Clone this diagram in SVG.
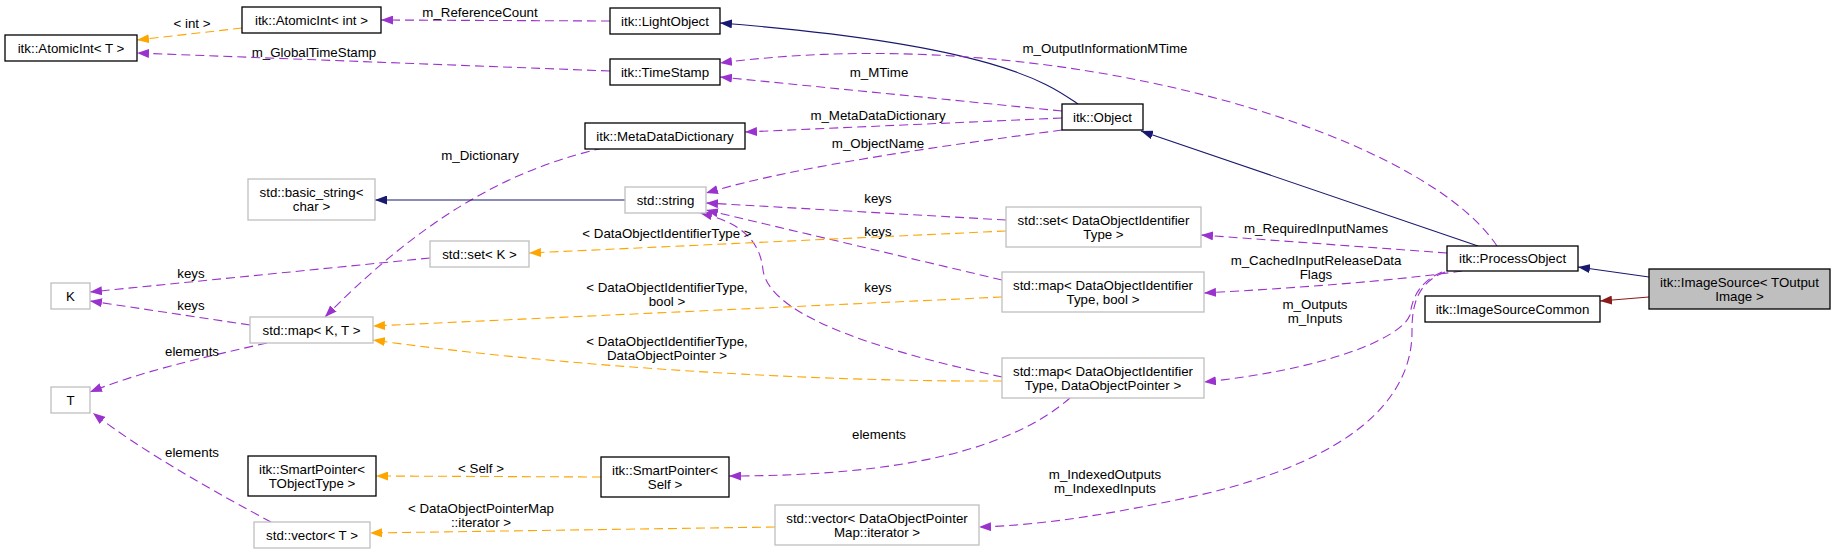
<svg xmlns="http://www.w3.org/2000/svg" width="1835" height="553" viewBox="0 0 1835 553">
<style>
text{font-family:"Liberation Sans",Arial,sans-serif;font-size:13.3px;fill:#000;text-anchor:middle}
.n rect{fill:#fff;stroke:#000;stroke-width:1.3}
.g rect{fill:#fff;stroke:#bfbfbf;stroke-width:1.3}
.h rect{fill:#bfbfbf;stroke:#000;stroke-width:1.3}
.e path{fill:none;stroke-width:1.1}
.p{stroke:#9a32cd;stroke-dasharray:9,5;marker-end:url(#mp)}
.o{stroke:#ffa500;stroke-dasharray:9,5;marker-end:url(#mo)}
.b{stroke:#191970;marker-end:url(#mb)}
.r{stroke:#8b1a1a;marker-end:url(#mr)}
</style>
<defs>
<marker id="mp" viewBox="0 0 12 9" refX="12" refY="4.5" markerWidth="12" markerHeight="9" markerUnits="userSpaceOnUse" orient="auto"><path d="M0,0L12,4.5L0,9z" fill="#9a32cd"/></marker>
<marker id="mo" viewBox="0 0 12 9" refX="12" refY="4.5" markerWidth="12" markerHeight="9" markerUnits="userSpaceOnUse" orient="auto"><path d="M0,0L12,4.5L0,9z" fill="#ffa500"/></marker>
<marker id="mb" viewBox="0 0 12 9" refX="12" refY="4.5" markerWidth="12" markerHeight="9" markerUnits="userSpaceOnUse" orient="auto"><path d="M0,0L12,4.5L0,9z" fill="#191970"/></marker>
<marker id="mr" viewBox="0 0 12 9" refX="12" refY="4.5" markerWidth="12" markerHeight="9" markerUnits="userSpaceOnUse" orient="auto"><path d="M0,0L12,4.5L0,9z" fill="#8b1a1a"/></marker>
</defs>
<rect width="1835" height="553" fill="#fff"/>
<g id="edges" class="e">
<path class="o" d="M242,28 L137,40"/>
<path class="p" d="M610,21 L381,20"/>
<path class="p" d="M610,71 L137,53"/>
<path class="b" d="M1078,104 C1050,85 1000,45 720,23"/>
<path class="p" d="M1062,111 L720,77"/>
<path class="p" d="M1497,246 C1420,130 1050,20 720,63"/>
<path class="p" d="M1062,118 L745,132"/>
<path class="p" d="M1062,130 C950,145 800,165 706,193"/>
<path class="p" d="M603,148 C530,165 440,200 325,317"/>
<path class="b" d="M625,200 L375,200"/>
<path class="p" d="M1006,220 L706,203"/>
<path class="p" d="M1002,280 L706,210"/>
<path class="p" d="M1002,377 C900,355 770,320 763,270 C760,240 740,222 700,213"/>
<path class="o" d="M1006,231 L529,253"/>
<path class="o" d="M1002,297 L373,326"/>
<path class="o" d="M1002,381 C800,382 550,365 373,340"/>
<path class="p" d="M430,258 L90,292"/>
<path class="p" d="M250,325 L90,301"/>
<path class="p" d="M267,343 C200,358 140,372 90,392"/>
<path class="p" d="M271,522 C220,495 140,450 93,413"/>
<path class="o" d="M601,477 L376,476"/>
<path class="o" d="M775,527 L370,533"/>
<path class="p" d="M1070,398 C1010,450 900,476 729,476"/>
<path class="p" d="M1447,253 L1201,235"/>
<path class="p" d="M1462,271 C1420,277 1350,285 1204,293"/>
<path class="p" d="M1442,272 C1418,282 1412,300 1410,315 C1400,340 1320,370 1204,382"/>
<path class="p" d="M1445,272 C1420,282 1412,300 1412,330 C1413,400 1350,460 1200,495 C1120,512 1050,525 979,527"/>
<path class="b" d="M1478,246 L1141,131"/>
<path class="b" d="M1649,277 L1578,267"/>
<path class="r" d="M1649,297 L1600,301"/>
</g>
<g id="edge-labels">
<text x="192" y="28">&lt; int &gt;</text>
<text x="480" y="17">m_ReferenceCount</text>
<text x="314" y="57">m_GlobalTimeStamp</text>
<text x="1105" y="53">m_OutputInformationMTime</text>
<text x="879" y="77">m_MTime</text>
<text x="878" y="120">m_MetaDataDictionary</text>
<text x="878" y="148">m_ObjectName</text>
<text x="480" y="160">m_Dictionary</text>
<text x="878" y="203">keys</text>
<text x="667" y="238">&lt; DataObjectIdentifierType &gt;</text>
<text x="878" y="236">keys</text>
<text x="191" y="278">keys</text>
<text x="878" y="292">keys</text>
<text x="667" y="292">&lt; DataObjectIdentifierType,</text>
<text x="667" y="306">bool &gt;</text>
<text x="191" y="310">keys</text>
<text x="667" y="346">&lt; DataObjectIdentifierType,</text>
<text x="667" y="360">DataObjectPointer &gt;</text>
<text x="192" y="356">elements</text>
<text x="1316" y="233">m_RequiredInputNames</text>
<text x="1316" y="265">m_CachedInputReleaseData</text>
<text x="1316" y="279">Flags</text>
<text x="1315" y="309">m_Outputs</text>
<text x="1315" y="323">m_Inputs</text>
<text x="879" y="439">elements</text>
<text x="192" y="457">elements</text>
<text x="481" y="473">&lt; Self &gt;</text>
<text x="1105" y="479">m_IndexedOutputs</text>
<text x="1105" y="493">m_IndexedInputs</text>
<text x="481" y="513">&lt; DataObjectPointerMap</text>
<text x="481" y="527">::iterator &gt;</text>
</g>
<g id="AtomicIntT" class="n"><rect x="5" y="35" width="132" height="26"/><text x="71" y="52.5">itk::AtomicInt&lt; T &gt;</text></g>
<g id="AtomicIntInt" class="n"><rect x="242" y="7" width="139" height="26"/><text x="311.5" y="24.5">itk::AtomicInt&lt; int &gt;</text></g>
<g id="LightObject" class="n"><rect x="610" y="8" width="110" height="26"/><text x="665" y="25.5">itk::LightObject</text></g>
<g id="TimeStamp" class="n"><rect x="610" y="59" width="110" height="26"/><text x="665" y="76.5">itk::TimeStamp</text></g>
<g id="Object" class="n"><rect x="1062" y="104" width="81" height="26"/><text x="1102.5" y="121.5">itk::Object</text></g>
<g id="MetaDataDictionary" class="n"><rect x="585" y="123" width="160" height="26"/><text x="665" y="140.5">itk::MetaDataDictionary</text></g>
<g id="BasicString" class="g"><rect x="248" y="179" width="127" height="41"/><text x="311.5" y="197">std::basic_string&lt;</text><text x="311.5" y="211">char &gt;</text></g>
<g id="StdString" class="g"><rect x="625" y="187" width="81" height="26"/><text x="665.5" y="204.5">std::string</text></g>
<g id="SetK" class="g"><rect x="430" y="241" width="99" height="26"/><text x="479.5" y="258.5">std::set&lt; K &gt;</text></g>
<g id="SetDOI" class="g"><rect x="1006" y="207" width="195" height="40"/><text x="1103.5" y="224.5">std::set&lt; DataObjectIdentifier</text><text x="1103.5" y="238.5">Type &gt;</text></g>
<g id="MapBool" class="g"><rect x="1002" y="272" width="202" height="40"/><text x="1103" y="289.5">std::map&lt; DataObjectIdentifier</text><text x="1103" y="303.5">Type, bool &gt;</text></g>
<g id="MapPtr" class="g"><rect x="1002" y="358" width="202" height="40"/><text x="1103" y="375.5">std::map&lt; DataObjectIdentifier</text><text x="1103" y="389.5">Type, DataObjectPointer &gt;</text></g>
<g id="K" class="g"><rect x="51" y="283" width="39" height="26"/><text x="70.5" y="300.5">K</text></g>
<g id="MapKT" class="g"><rect x="250" y="317" width="123" height="26"/><text x="311.5" y="334.5">std::map&lt; K, T &gt;</text></g>
<g id="T" class="g"><rect x="51" y="387" width="39" height="26"/><text x="70.5" y="404.5">T</text></g>
<g id="SmartPointerT" class="n"><rect x="248" y="456" width="128" height="40"/><text x="312" y="473.5">itk::SmartPointer&lt;</text><text x="312" y="487.5">TObjectType &gt;</text></g>
<g id="SmartPointerSelf" class="n"><rect x="601" y="457" width="128" height="40"/><text x="665" y="474.5">itk::SmartPointer&lt;</text><text x="665" y="488.5">Self &gt;</text></g>
<g id="VectorT" class="g"><rect x="254" y="522" width="116" height="26"/><text x="312" y="539.5">std::vector&lt; T &gt;</text></g>
<g id="VectorDOP" class="g"><rect x="775" y="505" width="204" height="40"/><text x="877" y="522.5">std::vector&lt; DataObjectPointer</text><text x="877" y="536.5">Map::iterator &gt;</text></g>
<g id="ProcessObject" class="n"><rect x="1447" y="246" width="131" height="25"/><text x="1512.5" y="263">itk::ProcessObject</text></g>
<g id="ImageSourceCommon" class="n"><rect x="1425" y="296" width="175" height="26"/><text x="1512.5" y="313.5">itk::ImageSourceCommon</text></g>
<g id="ImageSource" class="h"><rect x="1649" y="269" width="181" height="40"/><text x="1739.5" y="286.5">itk::ImageSource&lt; TOutput</text><text x="1739.5" y="300.5">Image &gt;</text></g>
</svg>
